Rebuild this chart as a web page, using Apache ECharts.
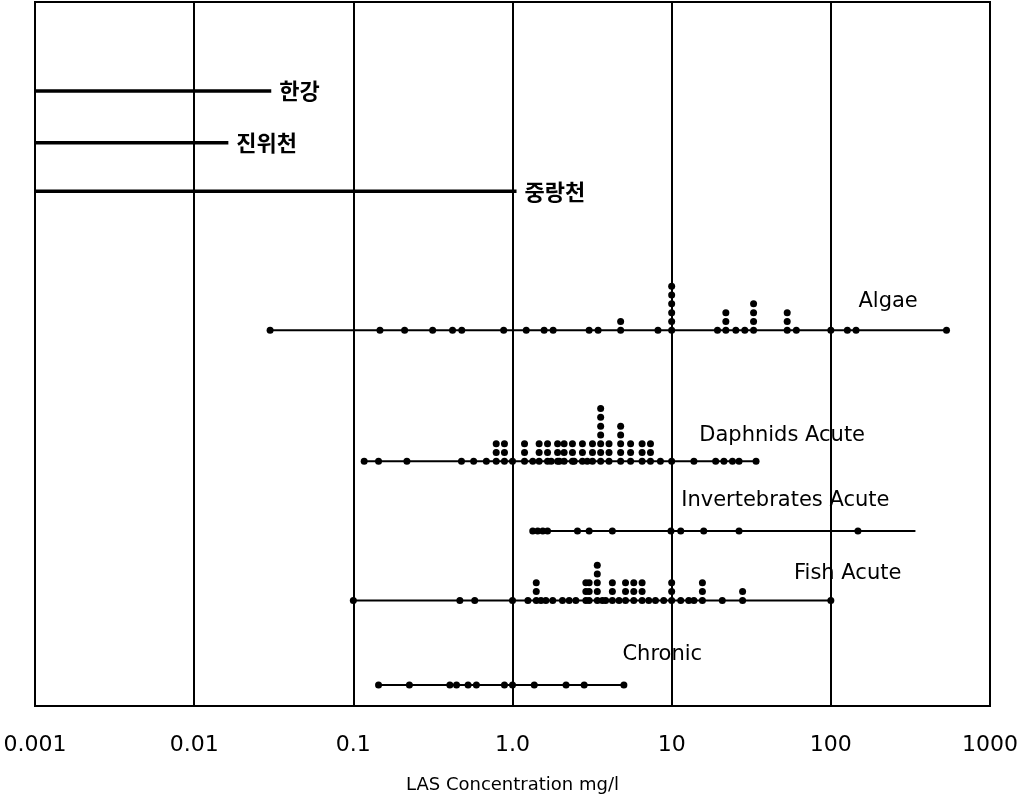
<!DOCTYPE html>
<html>
<head>
<meta charset="utf-8">
<script src="https://cdn.jsdelivr.net/npm/echarts@6/dist/echarts.min.js"></script>
<style>
  html, body { margin: 0; padding: 0; background: #fff; }
  #chart { width: 1022px; height: 802px; }
</style>
</head>
<body>
<div id="chart"></div>
<script>
// x tick labels (log axis, one per decade)
var tickLabels = ['0.001', '0.01', '0.1', '1.0', '10', '100', '1000'];

// river rows: concentration range (mg/l)
var riverNames = ['한강', '진위천', '중랑천'];
var riverStart = [0.001, 0.001, 0.001];
var riverEnd = [0.0305, 0.0164, 1.06];
var riverLevel = [69.9, 64.0, 58.5];

// toxicity rows
var groupNames = ['Algae', 'Daphnids Acute', 'Invertebrates Acute', 'Fish Acute', 'Chronic'];
var groupLevel = [42.7, 27.8, 19.9, 12.0, 2.4];
var groupStart = [0.03, 0.116, 1.33, 0.098, 0.143];
var groupEnd = [540, 35, 340, 100, 5.0];

// [concentration, number of results at that concentration]
var algae = [
  [0.03, 1], [0.147, 1], [0.21, 1], [0.315, 1], [0.42, 1], [0.48, 1], [0.88, 1],
  [1.22, 1], [1.58, 1], [1.8, 1], [3.03, 1], [3.45, 1], [4.78, 2], [8.2, 1],
  [10, 6], [19.4, 1], [21.9, 3], [25.3, 1], [28.8, 1], [32.7, 4], [53.2, 3],
  [60.7, 1], [100, 1], [127, 1], [144, 1], [533, 1]
];
var daphnids = [
  [0.117, 1], [0.144, 1], [0.217, 1], [0.478, 1], [0.57, 1], [0.685, 1],
  [0.79, 3], [0.89, 3], [1.0, 1], [1.19, 3], [1.34, 1], [1.47, 3], [1.66, 3],
  [1.75, 1], [1.92, 3], [1.97, 1], [2.11, 3], [2.38, 3], [2.44, 1], [2.75, 3],
  [2.95, 1], [3.18, 3], [3.58, 7], [4.04, 3], [4.78, 5], [5.52, 3], [6.52, 3],
  [7.36, 3], [8.5, 1], [10, 1], [13.8, 1], [18.9, 1], [21.3, 1], [24.1, 1],
  [26.5, 1], [33.9, 1]
];
var invertebrates = [
  [1.34, 1], [1.44, 1], [1.55, 1], [1.66, 1], [2.56, 1], [3.03, 1], [4.24, 1],
  [9.9, 1], [11.4, 1], [15.9, 1], [26.5, 1], [148, 1]
];
var fish = [
  [0.1, 1], [0.467, 1], [0.579, 1], [1.0, 1], [1.25, 1], [1.41, 3], [1.51, 1],
  [1.62, 1], [1.79, 1], [2.06, 1], [2.27, 1], [2.5, 1], [2.89, 3], [3.03, 3],
  [3.41, 5], [3.67, 1], [3.85, 1], [4.24, 3], [4.67, 1], [5.13, 3], [5.78, 3],
  [6.52, 3], [7.18, 1], [7.91, 1], [8.91, 1], [10, 3], [11.4, 1], [12.8, 1],
  [13.8, 1], [15.6, 3], [20.8, 1], [27.9, 2], [100, 1]
];
var chronic = [
  [0.144, 1], [0.225, 1], [0.404, 1], [0.445, 1], [0.526, 1], [0.593, 1],
  [0.89, 1], [1.0, 1], [1.37, 1], [2.17, 1], [2.82, 1], [5.01, 1]
];
var groupData = [algae, daphnids, invertebrates, fish, chronic];

// label anchors for the group names [concentration, level]
var labelAnchors = [[148, 46.0], [14.8, 30.7], [11.4, 23.4], [58.3, 15.1], [4.87, 5.8]];

var ink = '#000';
var series = [];

riverNames.forEach(function (name, i) {
  series.push({
    name: name,
    type: 'line',
    symbol: 'none',
    silent: true,
    lineStyle: { color: ink, width: 3.5 },
    data: [[riverStart[i], riverLevel[i]], [riverEnd[i], riverLevel[i]]],
    endLabel: {
      show: true,
      formatter: name,
      distance: 8,
      color: ink,
      fontFamily: 'Noto Sans CJK KR',
      fontWeight: 'bold',
      fontSize: 22
    }
  });
});

groupNames.forEach(function (name, i) {
  series.push({
    type: 'line',
    symbol: 'none',
    silent: true,
    lineStyle: { color: ink, width: 2 },
    data: [[groupStart[i], groupLevel[i]], [groupEnd[i], groupLevel[i]]]
  });
  var pts = [];
  groupData[i].forEach(function (d) {
    for (var k = 0; k < d[1]; k++) {
      pts.push([d[0], groupLevel[i] + k]);
    }
  });
  series.push({
    type: 'scatter',
    symbol: 'circle',
    symbolSize: 7,
    silent: true,
    itemStyle: { color: ink, opacity: 1 },
    data: pts
  });
});

series.push({
  type: 'scatter',
  symbolSize: 1,
  silent: true,
  itemStyle: { color: 'rgba(0,0,0,0)', opacity: 1 },
  label: {
    show: true,
    position: 'right',
    distance: 0,
    formatter: function (p) { return groupNames[p.dataIndex]; },
    color: ink,
    opacity: 1,
    fontFamily: 'DejaVu Sans',
    fontSize: 21
  },
  data: labelAnchors
});

var chart = echarts.init(document.getElementById('chart'));
chart.setOption({
  animation: false,
  backgroundColor: '#fff',
  grid: {
    left: 35, right: 32, top: 2, bottom: 96,
    show: true,
    borderColor: ink,
    borderWidth: 2
  },
  xAxis: {
    type: 'log',
    logBase: 10,
    min: 0.001,
    max: 1000,
    interval: 1,
    name: 'LAS Concentration mg/l',
    nameLocation: 'middle',
    nameGap: 70,
    nameTextStyle: { fontFamily: 'DejaVu Sans', fontSize: 18, color: ink },
    axisLine: { show: true, lineStyle: { color: ink, width: 2 } },
    axisTick: { show: false },
    minorTick: { show: false },
    splitLine: { show: true, lineStyle: { color: ink, width: 2 } },
    axisLabel: {
      margin: 28,
      color: ink,
      fontFamily: 'DejaVu Sans',
      fontSize: 22,
      formatter: function (v) {
        return tickLabels[Math.round(Math.log10(v)) + 3];
      }
    }
  },
  yAxis: {
    type: 'value',
    min: 0,
    max: 80,
    show: false,
    splitLine: { show: false }
  },
  series: series
});
</script>
</body>
</html>
